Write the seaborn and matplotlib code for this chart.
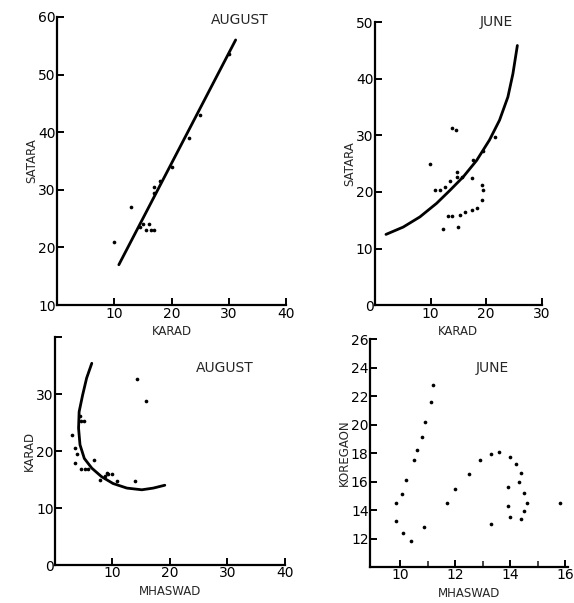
import matplotlib
matplotlib.use('Agg')
import matplotlib.pyplot as plt
import seaborn as sns

# August: Karad vs Satara
aug_karad = [10, 13, 14.5, 15, 15.5, 16, 16.5, 17, 17, 17, 18, 20, 23, 25, 30]
aug_satara = [21, 27, 23.5, 24, 23, 24, 23, 23, 30.5, 29.5, 31.5, 34, 39, 43, 53.5]
aug_fit_karad = [10.8, 31.2]
aug_fit_satara = [17, 56]

# June: Karad vs Satara
jun_karad = [13.8, 14.5, 10.8, 11.7, 12.6, 13.5, 14.7, 14.7, 15.6, 17.4, 17.7, 19.5, 21.6,
             19.2, 19.5, 19.2, 18.3, 17.4, 16.2, 15.3, 13.8, 13.2, 12.3, 15.0, 9.9]
jun_satara = [31.3, 31.0, 20.3, 20.4, 20.9, 22.0, 22.6, 23.5, 22.6, 22.4, 25.7, 27.2, 29.7,
              21.2, 20.3, 18.5, 17.1, 16.8, 16.5, 15.9, 15.7, 15.7, 13.5, 13.8, 25.0]
jun_fit_karad = [2.0, 5.1, 8.1, 11.1, 13.5, 15.9, 18.3, 20.6, 22.4, 23.9, 24.8, 25.6]
jun_fit_satara = [12.5, 13.8, 15.6, 18.0, 20.3, 22.7, 25.6, 29.2, 32.7, 36.8, 40.9, 45.9]

# August: Mhaswad vs Karad
aug_mhaswad = [2.9, 3.5, 3.8, 3.5, 4.3, 4.6, 5.0, 4.6, 5.2, 5.8, 6.7, 7.8, 8.7, 9.0, 9.3,
               9.9, 10.7, 13.9, 14.2, 15.9]
aug_karad2 = [22.9, 20.6, 19.4, 17.9, 26.2, 25.3, 25.3, 16.8, 16.8, 16.8, 18.5, 15.0, 15.6,
              16.2, 15.9, 15.9, 14.7, 14.7, 32.6, 28.8]
aug_fit_mhaswad = [6.4, 5.5, 4.8, 4.2, 4.1, 4.35, 5.1, 6.4, 8.1, 10.1, 12.5, 15.1, 17.1, 19.1]
aug_fit_karad2 = [35.4, 32.8, 29.8, 26.9, 24.0, 21.1, 18.7, 17.0, 15.5, 14.3, 13.5, 13.2, 13.5, 14.0]

# June: Mhaswad vs Koregaon
jun_mhaswad = [9.85, 9.85, 10.06, 10.2, 10.1, 10.4, 10.5, 10.6, 10.8, 10.9, 11.1, 11.2,
               10.85, 11.7, 12.0, 12.5, 12.9, 13.3, 13.6, 14.0, 14.2, 14.4, 14.3, 14.5,
               14.6, 14.5, 14.4, 14.0, 13.9, 13.3, 15.8, 13.9]
jun_koregaon = [13.2, 14.5, 15.1, 16.1, 12.4, 11.8, 17.5, 18.2, 19.1, 20.2, 21.6, 22.8,
                12.8, 14.5, 15.5, 16.5, 17.5, 17.9, 18.1, 17.7, 17.2, 16.6, 16.0, 15.2,
                14.5, 13.9, 13.4, 13.5, 15.6, 13.0, 14.5, 14.3]

sns.set_theme(style='ticks')
plt.rcParams['font.family'] = ['DejaVu Sans']

fig = plt.figure(figsize=(5.74, 6.03), dpi=100)
ax1 = fig.add_axes([0.0993, 0.494, 0.399, 0.478])
ax2 = fig.add_axes([0.653, 0.494, 0.291, 0.469])
ax3 = fig.add_axes([0.0958, 0.063, 0.4007, 0.378])
ax4 = fig.add_axes([0.6446, 0.0597, 0.345, 0.378])


def style(ax, xlabel, ylabel):
    sns.despine(ax=ax)
    for s in ['left', 'bottom']:
        ax.spines[s].set_linewidth(1.6)
        ax.spines[s].set_color('black')
    ax.tick_params(direction='in', length=5, width=1.4, labelsize=10, pad=1, colors='black')
    ax.tick_params(which='minor', direction='in', length=4, width=1.2)
    ax.set_xlabel(xlabel, fontsize=8.5, labelpad=3)
    ax.set_ylabel(ylabel, fontsize=8.5, labelpad=0)
    ax.set_facecolor('white')


dot = dict(color='black', s=7, linewidth=0, legend=False)
line = dict(color='black', linewidth=2, sort=False, estimator=None)

# panel 1
sns.scatterplot(x=aug_karad, y=aug_satara, ax=ax1, **dot)
sns.lineplot(x=aug_fit_karad, y=aug_fit_satara, ax=ax1, **line)
ax1.set_xlim(0, 40)
ax1.set_ylim(10, 60)
ax1.set_xticks([10, 20, 30, 40])
ax1.set_yticks([10, 20, 30, 40, 50, 60])
style(ax1, 'KARAD', 'SATARA')
ax1.text(0.80, 0.99, 'AUGUST', transform=ax1.transAxes, ha='center', va='center', fontsize=10)

# panel 2
sns.scatterplot(x=jun_karad, y=jun_satara, ax=ax2, **dot)
sns.lineplot(x=jun_fit_karad, y=jun_fit_satara, ax=ax2, **line)
ax2.set_xlim(0, 30)
ax2.set_ylim(0, 50)
ax2.set_xticks([10, 20, 30])
ax2.set_yticks([0, 10, 20, 30, 40, 50])
style(ax2, 'KARAD', 'SATARA')
ax2.text(0.73, 1.0, 'JUNE', transform=ax2.transAxes, ha='center', va='center', fontsize=10)

# panel 3
sns.scatterplot(x=aug_mhaswad, y=aug_karad2, ax=ax3, **dot)
sns.lineplot(x=aug_fit_mhaswad, y=aug_fit_karad2, ax=ax3, **line)
ax3.set_xlim(0, 40)
ax3.set_ylim(0, 40)
ax3.set_xticks([10, 20, 30, 40])
ax3.set_yticks([0, 10, 20, 30, 40])
ax3.set_yticklabels(['0', '10', '20', '30', ''])
style(ax3, 'MHASWAD', 'KARAD')
ax3.text(0.74, 0.864, 'AUGUST', transform=ax3.transAxes, ha='center', va='center', fontsize=10)

# panel 4
sns.scatterplot(x=jun_mhaswad, y=jun_koregaon, ax=ax4, **dot)
ax4.set_xlim(8.9, 16.1)
ax4.set_ylim(10, 26)
ax4.set_xticks([10, 12, 14, 16])
ax4.set_xticks([11, 13, 15], minor=True)
ax4.set_yticks([12, 14, 16, 18, 20, 22, 24, 26])
style(ax4, 'MHASWAD', 'KOREGAON')
ax4.text(0.62, 0.873, 'JUNE', transform=ax4.transAxes, ha='center', va='center', fontsize=10)

fig.savefig('out.png', dpi=100, facecolor='white')
